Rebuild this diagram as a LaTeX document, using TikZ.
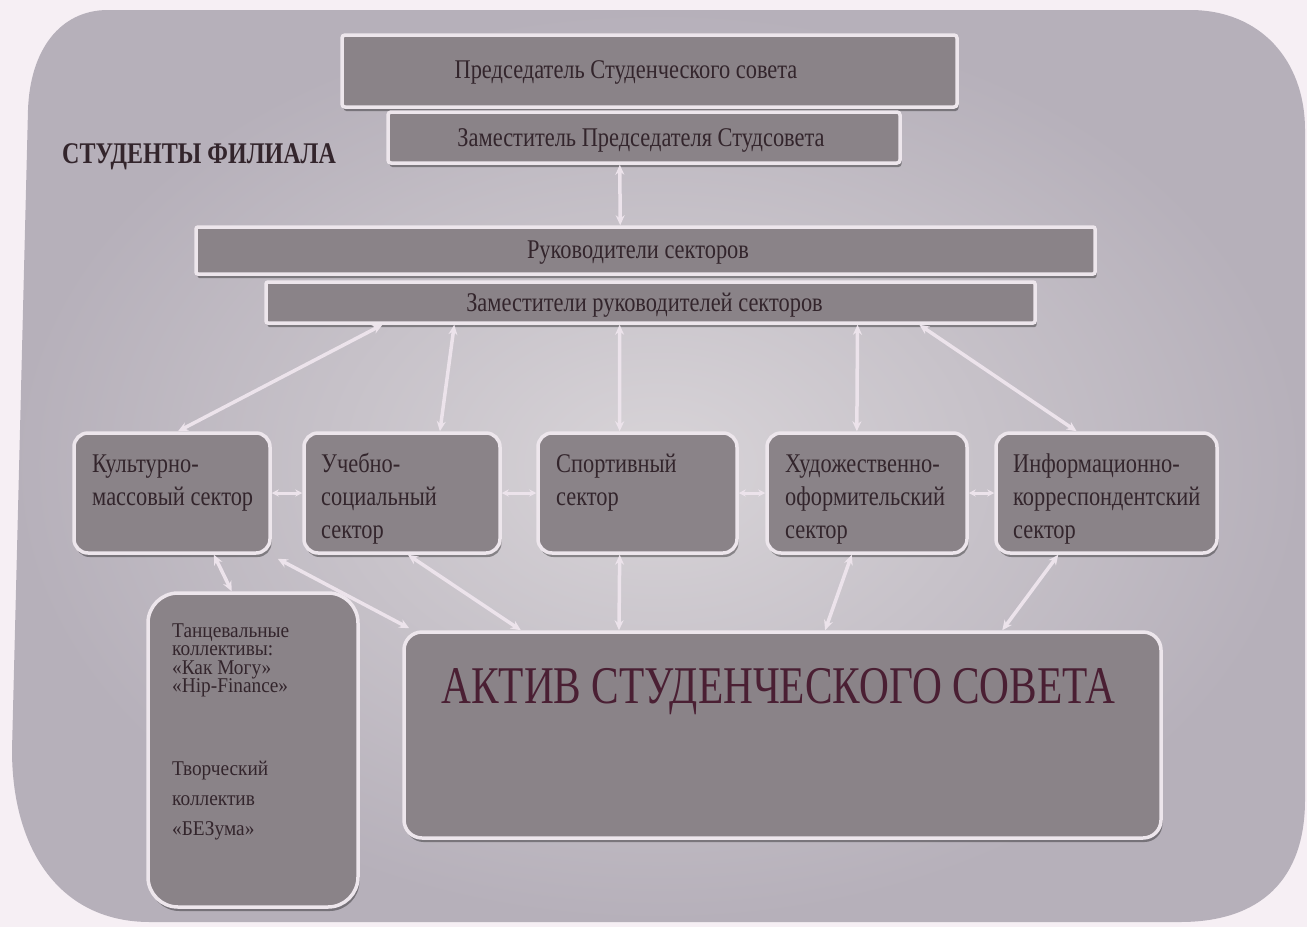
\documentclass[tikz,border=0pt]{standalone}
\usepackage{fontspec}
\setmainfont{Liberation Serif}
\newfontfamily\mainf[FakeStretch=0.83]{Liberation Serif}
\newfontfamily\smallf[FakeStretch=0.92]{Liberation Serif}
\newfontfamily\aktf[FakeStretch=0.78]{Liberation Serif}
\newfontfamily\headf[FakeStretch=0.8]{Liberation Serif}
\usetikzlibrary{arrows.meta,shadows,calc}
\definecolor{pagebg}{HTML}{F6EFF4}
\definecolor{bgin}{HTML}{D8D4D8}
\definecolor{bgout}{HTML}{B6B0BA}
\definecolor{boxfill}{HTML}{8A8388}
\definecolor{boxedge}{HTML}{EDE6EC}
\definecolor{txtc}{HTML}{33252C}
\definecolor{aktc}{HTML}{4A1F33}
\definecolor{arr}{HTML}{ECE3EB}
\newcommand\mystrut[1]{\rule{0pt}{#1}}
\tikzset{
  ebox/.style={draw=boxedge, line width=3.5pt, fill=boxfill, rounded corners=#1, inner sep=0pt,
    drop shadow={shadow xshift=1.5pt, shadow yshift=-4pt, fill=black, opacity=0.35}},
  ebox/.default=14pt,
  titletxt/.style={inner sep=0pt, anchor=base, text=txtc, font=\mainf\fontsize{27}{30}\selectfont},
  sectxt/.style={inner sep=0pt, anchor=north west, align=left, text=txtc, font=\mainf\fontsize{27}{33}\selectfont},
  conn/.style={draw=arr, line width=3.5pt, {Stealth[length=10pt,width=9pt]}-{Stealth[length=10pt,width=9pt]}},
  sconn/.style={draw=arr, line width=3pt, {Stealth[length=7pt,width=7pt]}-{Stealth[length=7pt,width=7pt]}}
}
\begin{document}
\begin{tikzpicture}[x=1pt,y=-1pt]
\useasboundingbox (0,0) rectangle (1307,927);
\fill[pagebg] (0,0) rectangle (1307,927);
\shade[inner color=bgin, outer color=bgout] (108,10) -- (1190,10) .. controls (1260,10) and (1305,60) .. (1305,130) -- (1305,800) .. controls (1305,880) and (1260,922) .. (1180,922) -- (150,922) .. controls (60,922) and (12,850) .. (12,750) -- (28,110) .. controls (30,50) and (60,10) .. (108,10) -- cycle;

% top boxes
\node[ebox=3pt, minimum width=615pt, minimum height=72pt] (pred) at (649.5,71) {};
\node[titletxt] (predt) at (626,78) {Председатель Студенческого совета};
\node[ebox=3pt, minimum width=512pt, minimum height=51pt] (zam) at (644,137.5) {};
\node[titletxt] (zamt) at (641,146) {Заместитель Председателя Студсовета};
\node[inner sep=0pt, anchor=base west, text=txtc, font=\headf\bfseries\fontsize{30}{34}\selectfont] (stud) at (62,163) {СТУДЕНТЫ ФИЛИАЛА};

\node[ebox=2pt, minimum width=899pt, minimum height=47pt] (ruk) at (645.5,250.5) {};
\node[titletxt] (rukt) at (638,258) {Руководители секторов};
\node[ebox=2pt, minimum width=769pt, minimum height=41pt] (zr) at (650.5,302.5) {};
\node[titletxt] (zrt) at (644.5,311) {Заместители руководителей секторов};

% sectors
\node[ebox, minimum width=196pt, minimum height=120pt] (k) at (172,493) {};
\node[ebox, minimum width=196pt, minimum height=120pt] (u) at (402,493) {};
\node[ebox, minimum width=199pt, minimum height=120pt] (s) at (637.5,493) {};
\node[ebox, minimum width=200pt, minimum height=120pt] (h) at (867,493) {};
\node[ebox, minimum width=221pt, minimum height=120pt] (i) at (1106.5,493) {};
\node[sectxt] (kt) at (92,451) {\mystrut{21pt}Культурно-\\массовый сектор};
\node[sectxt] (ut) at (321,451) {\mystrut{21pt}Учебно-\\социальный\\сектор};
\node[sectxt] (st) at (556,451) {\mystrut{21pt}Спортивный\\сектор};
\node[sectxt] (ht) at (785,451) {\mystrut{21pt}Художественно-\\оформительский\\сектор};
\node[sectxt] (it) at (1013,451) {\mystrut{21pt}Информационно-\\корреспондентский\\сектор};

% bottom
\node[ebox=30pt, minimum width=210pt, minimum height=314pt] (tanc) at (253,750) {};
\node[sectxt, font=\smallf\fontsize{21}{18.5}\selectfont] (t1) at (172,621) {\mystrut{16pt}Танцевальные\\коллективы:\\«Как Могу»\\«Hip-Finance»};
\node[sectxt, font=\smallf\fontsize{21}{30}\selectfont] (t2) at (172,759) {\mystrut{16pt}Творческий\\коллектив\\«БЕЗума»};
\node[ebox=18pt, minimum width=757pt, minimum height=206pt] (ak) at (782.5,735) {};
\node[inner sep=0pt, anchor=base, text=aktc, font=\aktf\fontsize{53}{60}\selectfont] (akt) at (778.5,703) {АКТИВ СТУДЕНЧЕСКОГО СОВЕТА};

% connectors
\draw[conn] ($(zam.south west)!0.453!(zam.south east)$) -- ($(ruk.north west)!0.472!(ruk.north east)$);
\draw[conn] ($(zr.south west)!0.153!(zr.south east)$) -- ($(k.north west)!0.53!(k.north east)$);
\draw[conn] ($(zr.south west)!0.246!(zr.south east)$) -- ($(u.north west)!0.69!(u.north east)$);
\draw[conn] ($(zr.south west)!0.46!(zr.south east)$) -- ($(s.north west)!0.412!(s.north east)$);
\draw[conn] ($(zr.south west)!0.768!(zr.south east)$) -- ($(h.north west)!0.45!(h.north east)$);
\draw[conn] ($(zr.south west)!0.848!(zr.south east)$) -- ($(i.north west)!0.367!(i.north east)$);

\draw[sconn] (k.east) -- (u.west);
\draw[sconn] (u.east) -- (s.west);
\draw[sconn] (s.east) -- (h.west);
\draw[sconn] (h.east) -- (i.west);

\draw[conn] ($(k.south west)!0.71!(k.south east)$) -- ($(tanc.north west)!0.40!(tanc.north east)$);
\draw[conn] ($(k.south east)+(6,4)$) -- ($(ak.north west)+(7,-2)$);
\draw[conn] ($(u.south west)!0.53!(u.south east)$) -- ($(ak.north west)!0.156!(ak.north east)$);
\draw[conn] ($(s.south west)!0.412!(s.south east)$) -- ($(ak.north west)!0.285!(ak.north east)$);
\draw[conn] ($(h.south west)!0.425!(h.south east)$) -- ($(ak.north west)!0.556!(ak.north east)$);
\draw[conn] ($(i.south west)!0.285!(i.south east)$) -- ($(ak.north west)!0.789!(ak.north east)$);
\end{tikzpicture}
\end{document}
